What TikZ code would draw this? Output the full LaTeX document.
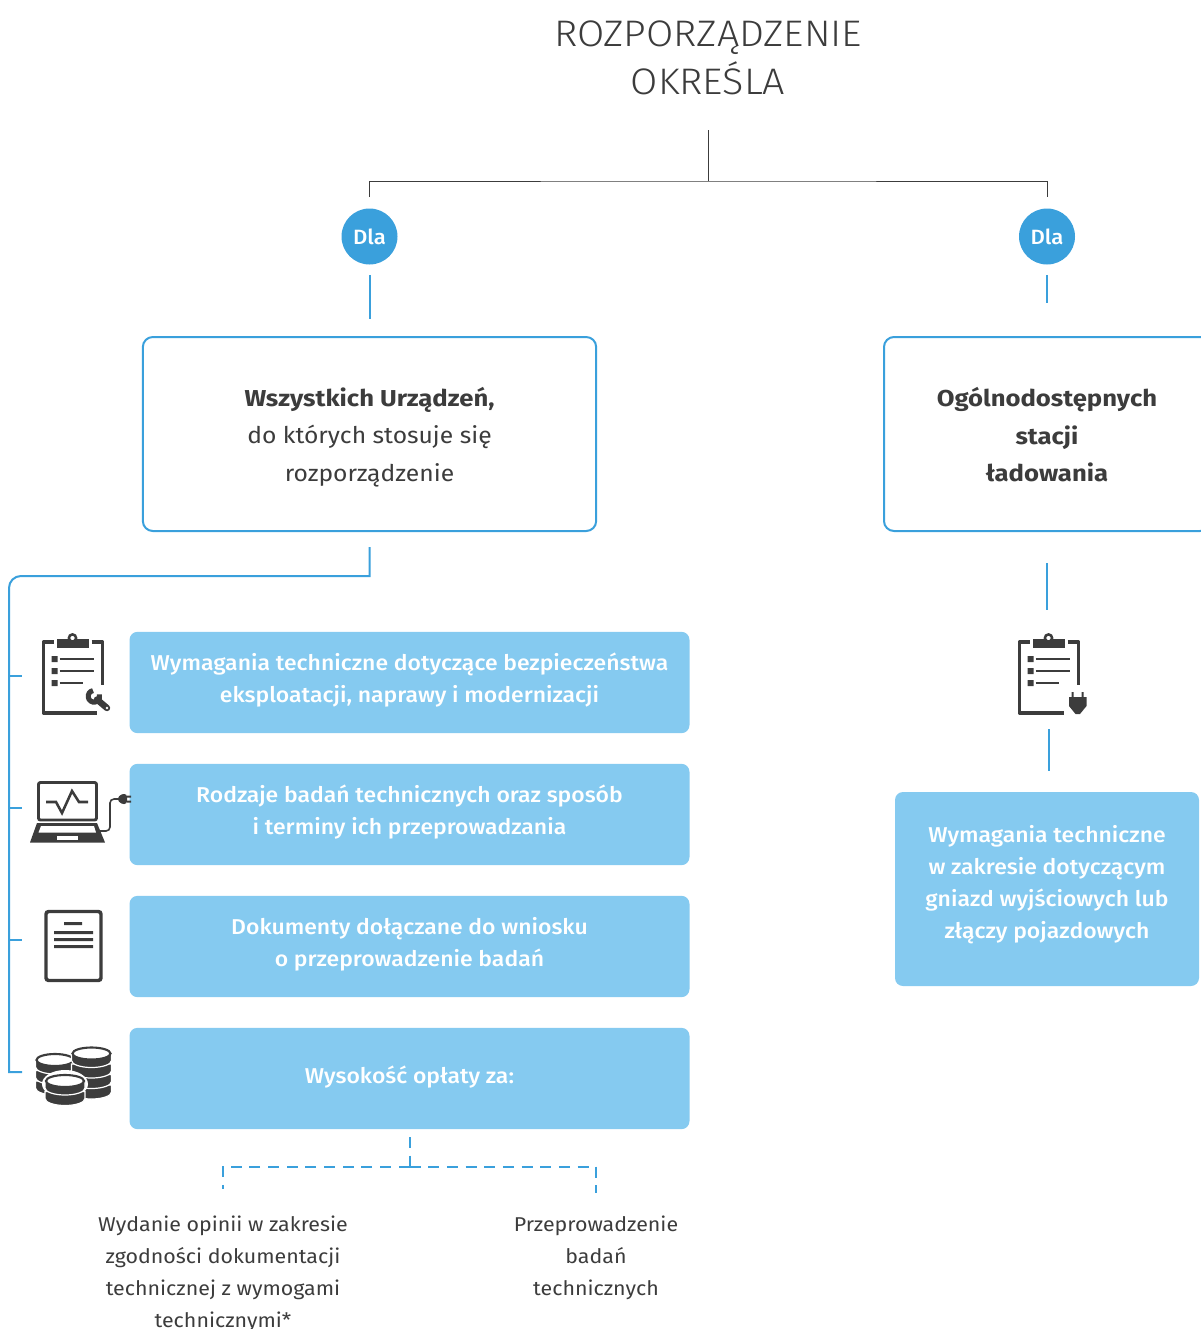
\documentclass[tikz,border=0pt]{standalone}
\usepackage{fontspec}
\setmainfont{Fira Sans}[FakeStretch=1.07,BoldFeatures={FakeStretch=1.115}]
\newfontfamily\lightf{Fira Sans Light}[FakeStretch=1.07]
\newfontfamily\medf{Fira Sans Medium}[FakeStretch=1.07]
\usetikzlibrary{calc}
\definecolor{ink}{HTML}{3C3C3C}
\definecolor{lineblue}{HTML}{3AA0DC}
\definecolor{fillblue}{HTML}{85CAF0}
\tikzset{
  x=0.75pt,y=-0.75pt,
  titletext/.style={text=ink,align=center,font=\lightf\fontsize{27.7}{36}\selectfont,inner sep=0},
  dlanode/.style={circle,fill=lineblue,minimum size=42pt,inner sep=0,text=white,font=\medf\fontsize{15.5}{18}\selectfont},
  outline/.style={draw=lineblue,line width=1.5pt,rounded corners=7.5pt,fill=white,inner sep=0},
  outtext/.style={text=ink,align=center,font=\fontsize{17.27}{28.1}\selectfont,inner sep=0},
  bluebox/.style={fill=fillblue,rounded corners=6pt,inner sep=0},
  bluetext/.style={text=white,align=center,font=\medf\fontsize{16.1}{24}\selectfont,inner sep=0},
  plaintext/.style={text=ink,align=center,font=\fontsize{15}{24}\selectfont,inner sep=0},
  blackline/.style={draw=ink,line width=0.75pt},
  blueline/.style={draw=lineblue,line width=1.5pt},
  dashline/.style={draw=lineblue,line width=1.5pt,dash pattern=on 8.25pt off 5.75pt},
  iconline/.style={draw=ink,line width=2.6pt},
  thinicon/.style={draw=ink,line width=1.3pt},
}
\newcommand{\clipboard}[2]{%
  \begin{scope}[shift={(#1,0)}]
    \draw[iconline,line join=round] (54,642) -- (44,642) -- (44,713) -- (#2,713);
    \draw[iconline,line join=round] (92,642) -- (103,642) -- (103,685);
    \fill[ink] (57,639) rectangle (89,648);
    \draw[ink,fill=white,line width=1.9pt] (73,638) circle (3.6);
    \fill[ink] (52,656) rectangle (58,662) (52,668) rectangle (58,674) (52,680) rectangle (58,686);
    \draw[thinicon] (60,659) -- (94,659) (60,671) -- (94,671) (60,683) -- (83,683);
  \end{scope}}
\newcommand{\coinstack}[5]{% cx, topcy, rx, ry, layers
  \foreach \k in {#5,...,1} {
    \pgfmathsetmacro{\cyk}{#2+(\k-1)*10.5}
    \pgfmathsetmacro{\cyb}{\cyk+7}
    \pgfmathsetmacro{\xl}{#1-#3}
    \pgfmathsetmacro{\xr}{#1+#3}
    \fill[ink,draw=white,line width=0.9pt] (\xl,\cyk) -- (\xl,\cyb) arc[start angle=180,end angle=360,x radius=#3,y radius=-#4] -- (\xr,\cyk) -- cycle;
  }
  \pgfmathsetmacro{\rxi}{#3-1}
  \pgfmathsetmacro{\ryi}{#4-1}
  \draw[ink,fill=white,line width=1.6pt] (#1,#2) ellipse[x radius=\rxi,y radius=\ryi];
}
\begin{document}
\begin{tikzpicture}
\clip[use as bounding box] (0,0) rectangle (1201,1329);
% title
\node[titletext] (title) at (708,57.5) {ROZPORZĄDZENIE\\OKREŚLA};
% named anchors of the connectors
\coordinate (treetop) at (708.5,130);
\coordinate (treejoin) at (708.5,181);
\node[dlanode] (dlaL) at (369.5,236.5) {Dla};
\node[dlanode] (dlaR) at (1047,236.5) {Dla};
% outlined boxes
\node[outline,minimum width=340pt,minimum height=145.5pt] (boxL) at (369.5,434) {};
\node[outtext] (boxLt) at (369.5,437) {\textbf{Wszystkich Urządzeń,}\\do których stosuje się\\rozporządzenie};
\node[outline,minimum width=244.5pt,minimum height=145.5pt] (boxR) at (1047,434) {};
\node[outtext,font=\bfseries\fontsize{17.27}{28.1}\selectfont] (boxRt) at (1047,435) {Ogólnodostępnych\\stacji\\ładowania};
% black tree
\draw[blackline] (treetop) -- (treejoin);
\draw[blackline] ($(dlaL.north)+(0,-11)$) |- (treejoin) -| ($(dlaR.north)+(0,-11)$);
% blue stems
\draw[blueline] ($(dlaL.south)+(0,10)$) -- ($(boxL.north)+(0,-17)$);
\draw[blueline] ($(dlaR.south)+(0,10)$) -- ($(boxR.north)+(0,-33)$);
% filled boxes
\node[bluebox,minimum width=420pt,minimum height=76pt] (b1) at (409.5,682.5) {};
\node[bluebox,minimum width=420pt,minimum height=76pt] (b2) at (409.5,814.5) {};
\node[bluebox,minimum width=420pt,minimum height=76pt] (b3) at (409.5,946.5) {};
\node[bluebox,minimum width=420pt,minimum height=76pt] (b4) at (409.5,1078.5) {};
\node[bluetext] (t1) at (409.5,680.5) {Wymagania techniczne dotyczące bezpieczeństwa\\eksploatacji, naprawy i modernizacji};
\node[bluetext] (t2) at (409.5,812.5) {Rodzaje badań technicznych oraz sposób\\i terminy ich przeprowadzania};
\node[bluetext] (t3) at (409.5,944.5) {Dokumenty dołączane do wniosku\\o przeprowadzenie badań};
\node[bluetext] (t4) at (409.5,1077) {Wysokość opłaty za:};
\node[bluebox,minimum width=228pt,minimum height=145.5pt] (bR) at (1047,889) {};
\node[bluetext] (tR) at (1047,885) {Wymagania techniczne\\w zakresie dotyczącym\\gniazd wyjściowych lub\\złączy pojazdowych};
% left rail
\coordinate (railtop) at (369.5,547);
\coordinate (railbend) at (369.5,576);
\coordinate (railend) at (22,1072);
\coordinate (tick1) at (22,676);
\coordinate (tick2) at (22,808);
\coordinate (tick3) at (22,940);
\draw[blueline] (railtop) -- (railbend) [rounded corners=9pt] -- (9,576) [sharp corners] -- (9,1072) -- (railend);
\draw[blueline] (9,676) -- (tick1) (9,808) -- (tick2) (9,940) -- (tick3);
% right stems
\draw[blueline] ($(boxR.south)+(0,31)$) -- ($(boxR.south)+(0,78)$);
\coordinate (rs1) at (1049,729);
\coordinate (rs2) at (1049,771);
\draw[blueline] (rs1) -- (rs2);
% dashed fork
\coordinate (fa) at (409.5,1137);
\coordinate (fb) at (409.5,1166.5);
\coordinate (fl) at (222.5,1189);
\coordinate (fr) at (596,1192.5);
\draw[dashline] (fa) -- (fb);
\draw[dashline] (fb) -| (fl);
\draw[dashline] (fb) -| (fr);
% bottom labels
\node[plaintext] (l1) at (223,1274) {Wydanie opinii w zakresie\\zgodności dokumentacji\\technicznej z wymogami\\technicznymi*};
\node[plaintext] (l2) at (596,1258) {Przeprowadzenie\\badań\\technicznych};
% icon 1
\clipboard{-0.5}{97}
\draw[ink,line width=3.8pt] (93,690.6) arc[start angle=260,end angle=-20,radius=5.8];
\draw[ink,line width=4.8pt,line cap=round] (97,699.5) -- (107,708);
\fill[white] (107,708) circle (1.4);
% icon 2 laptop
\draw[iconline,line width=2.2pt,rounded corners=1.5pt] (38.5,782.5) rectangle (96.5,820);
\draw[ink,line width=1.9pt] (46,802) -- (56,802) -- (62,813) -- (72,791) -- (79,802) -- (88,802);
\fill[ink] (37,823) -- (97,823) -- (105,842.5) -- (30,842.5) -- cycle;
\fill[white] (41,826) -- (94,826) -- (96,832.5) -- (38.5,832.5) -- cycle;
\fill[white] (57,836) rectangle (78,839.5);
\draw[ink,line width=1.2pt,rounded corners=3pt] (100,831) -- (110,831) -- (110,799) -- (118,799);
\fill[ink,rounded corners=2pt] (117,799) -- (121,794) -- (127,794) -- (127,804) -- (121,804) -- cycle;
\fill[ink] (127,795.5) rectangle (131,797.5) (127,800.5) rectangle (131,802.5);
% icon 3 document
\draw[iconline,rounded corners=2pt] (46,911.5) rectangle (101,980.5);
\fill[ink] (64,922) rectangle (82,925) (54,931) rectangle (93,934) (54,938) rectangle (93,941) (54,945) rectangle (93,948);
% icon 4 coins
\coinstack{55}{1060}{19.5}{7}{3}
\coinstack{91.5}{1053.5}{20}{7}{4}
\fill[white] (65,1084) ellipse[x radius=23,y radius=14];
\coinstack{65}{1081}{20}{7}{2}
% right icon
\clipboard{975.5}{88}
\fill[ink] (1069,697) -- (1086.5,697) -- (1086.5,706) -- (1080,714) -- (1075.5,714) -- (1069,706) -- cycle;
\fill[ink] (1071.5,692) rectangle (1073.5,698) (1081.5,692) rectangle (1083.5,698);
\end{tikzpicture}
\end{document}
